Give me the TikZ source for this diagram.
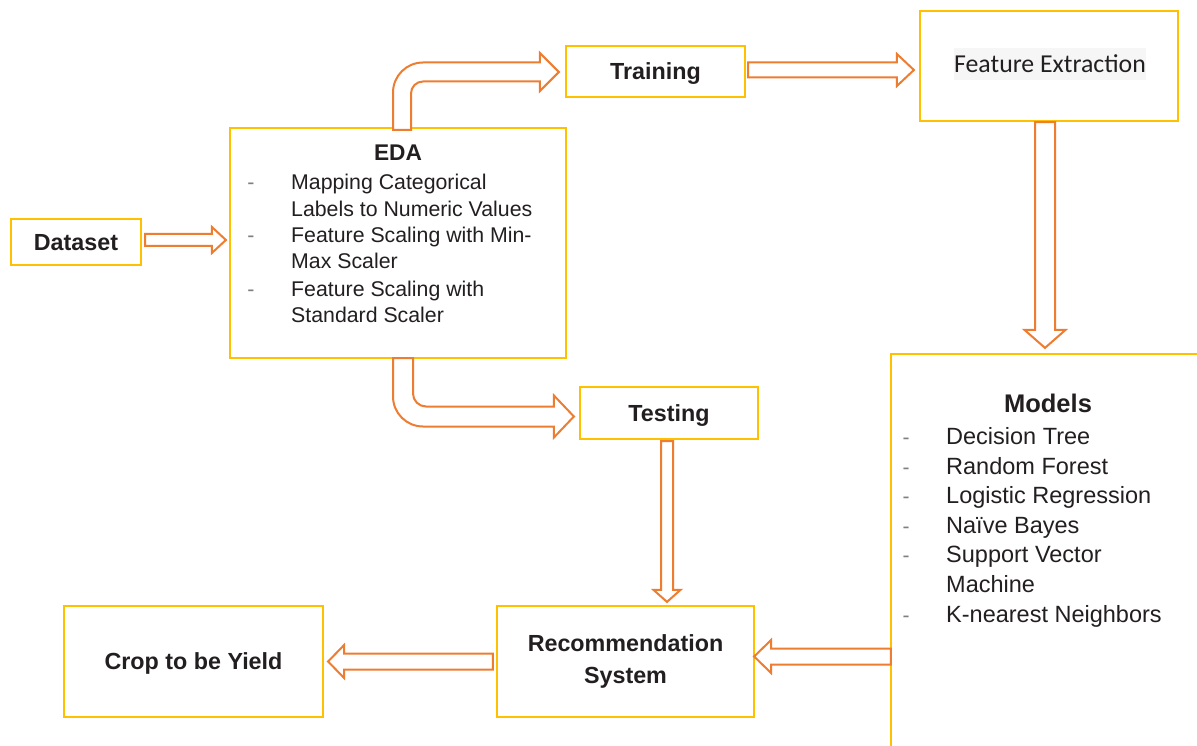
\documentclass[tikz,border=0pt]{standalone}
\usepackage{fontspec}
\setmainfont{Liberation Sans}
\newfontfamily\calfont{Carlito}
\usetikzlibrary{calc}
\definecolor{boxyellow}{HTML}{FFC000}
\definecolor{arrorange}{HTML}{ED7D31}
\definecolor{txt}{HTML}{231F20}
\definecolor{dashgray}{HTML}{7F7F7F}
\definecolor{hl}{HTML}{F6F6F6}
\tikzset{
  yellowbox/.style={draw=boxyellow, line width=2.2pt, fill=white, inner sep=0pt, rectangle},
  lbl/.style={font=\fontsize{23.3}{28}\selectfont\bfseries, text=txt},
  oneline/.style={text height=16.7pt, text depth=0pt},
  barrow/.style={draw=arrorange, line width=2pt, fill=white, line join=miter},
  edaitem/.style={anchor=base west, inner sep=0pt, font=\fontsize{21.3}{26}\selectfont, text=txt},
  edadash/.style={anchor=base, inner sep=0pt, font=\fontsize{21.3}{26}\selectfont, text=dashgray},
  moditem/.style={anchor=base west, inner sep=0pt, font=\fontsize{23.5}{28}\selectfont, text=txt},
  moddash/.style={anchor=base, inner sep=0pt, font=\fontsize{21}{26}\selectfont, text=dashgray},
}
\newcommand\blockright[5]{\draw[barrow] let \p1=#1, \p2=#2 in
  (\x1,\y2+#3) -- (\x2-#5,\y2+#3) -- (\x2-#5,\y2+#4) -- (\x2,\y2) -- (\x2-#5,\y2-#4) -- (\x2-#5,\y2-#3) -- (\x1,\y2-#3) -- cycle;}
\newcommand\blockleft[5]{\draw[barrow] let \p1=#1, \p2=#2 in
  (\x1,\y2+#3) -- (\x2+#5,\y2+#3) -- (\x2+#5,\y2+#4) -- (\x2,\y2) -- (\x2+#5,\y2-#4) -- (\x2+#5,\y2-#3) -- (\x1,\y2-#3) -- cycle;}
\newcommand\blockdown[5]{\draw[barrow] let \p1=#1, \p2=#2 in
  (\x2-#3,\y1) -- (\x2-#3,\y2+#5) -- (\x2-#4,\y2+#5) -- (\x2,\y2) -- (\x2+#4,\y2+#5) -- (\x2+#3,\y2+#5) -- (\x2+#3,\y1) -- cycle;}
\begin{document}
\begin{tikzpicture}[x=1pt,y=-1pt]
\useasboundingbox (0,0) rectangle (1197,746);
\clip (0,0) rectangle (1197,746);
\fill[white] (0,0) rectangle (1197,746);

% boxes
\node[yellowbox, lbl, oneline, minimum width=130pt, minimum height=46pt] (dataset) at (76,242) {Dataset};
\node[yellowbox, minimum width=336pt, minimum height=230pt] (eda) at (398,243) {};
\node[yellowbox, lbl, oneline, minimum width=179pt, minimum height=51pt] (training) at (655.5,71.5) {Training};
\node[yellowbox, minimum width=258pt, minimum height=110pt] (feat) at (1049,66) {};
\node[fill=hl, inner sep=0pt, text height=25pt, text depth=7pt, anchor=base, font=\calfont\fontsize{25.8}{30}\selectfont, text=txt] (feattxt) at (1050,73) {Feature Extraction};
\node[yellowbox, minimum width=330pt, minimum height=420pt] (models) at (1056,564) {};
\node[yellowbox, lbl, oneline, minimum width=178pt, minimum height=52pt] (testing) at (669,413) {Testing};
\node[yellowbox, lbl, font=\fontsize{23.3}{32}\selectfont\bfseries, align=center, minimum width=257pt, minimum height=111pt] (reco) at (625.5,661.5) {Recommendation\\System};
\node[yellowbox, lbl, oneline, minimum width=259pt, minimum height=111pt] (crop) at (193.5,661.5) {Crop to be Yield};

% EDA text
\node[anchor=base, inner sep=0pt, font=\fontsize{22.7}{28}\selectfont\bfseries, text=txt] (edatitle) at (398,161) {EDA};
\node[edadash] (ed1) at (251,190) {-};
\node[edaitem] (ei1) at (291,190) {Mapping Categorical};
\node[edaitem] (ei1b) at (291,217) {Labels to Numeric Values};
\node[edadash] (ed2) at (251,243) {-};
\node[edaitem] (ei2) at (291,243) {Feature Scaling with Min-};
\node[edaitem] (ei2b) at (291,269) {Max Scaler};
\node[edadash] (ed3) at (251,296) {-};
\node[edaitem] (ei3) at (291,296) {Feature Scaling with};
\node[edaitem] (ei3b) at (291,322) {Standard Scaler};

% Models text
\node[anchor=base, inner sep=0pt, font=\fontsize{25.5}{30}\selectfont\bfseries, text=txt] (modtitle) at (1048,412) {Models};
\node[moddash] (md1) at (906,444) {-};
\node[moditem] (mi1) at (946,444) {Decision Tree};
\node[moddash] (md2) at (906,474) {-};
\node[moditem] (mi2) at (946,474) {Random Forest};
\node[moddash] (md3) at (906,503) {-};
\node[moditem] (mi3) at (946,503) {Logistic Regression};
\node[moddash] (md4) at (906,533) {-};
\node[moditem] (mi4) at (946,533) {Naïve Bayes};
\node[moddash] (md5) at (906,562) {-};
\node[moditem] (mi5) at (946,562) {Support Vector};
\node[moditem] (mi5b) at (946,592) {Machine};
\node[moddash] (md6) at (906,622) {-};
\node[moditem] (mi6) at (946,622) {K-nearest Neighbors};

% straight block arrows
\blockright{($(dataset.east)+(3,-2)$)}{($(eda.west)+(-3,-3)$)}{6pt}{13pt}{14pt}
\blockright{($(training.east)+(2,-1.5)$)}{($(feat.west)+(-5,4)$)}{7.5pt}{16pt}{17pt}
\blockdown{($(feat.south)+(-4,0)$)}{($(feat.south |- models.north)+(-4,-5)$)}{10pt}{20.5pt}{18pt}
\blockdown{($(testing.south)+(-2,1)$)}{($(testing.south |- reco.north)+(-2,-3)$)}{6pt}{13.5pt}{12pt}
\blockleft{($(models.west |- reco.east)+(1,-5)$)}{($(reco.east)+(-1,-5)$)}{8pt}{16.5pt}{17pt}
\blockleft{($(reco.west)+(-3,0)$)}{($(crop.east)+(4,0)$)}{8pt}{16.5pt}{16pt}

% EDA -> Training (bent up-right)
\draw[barrow] let \p1=($(eda.north)+(4,3)$), \p2=($(training.west)+(-6,0.5)$) in
  (\x1-9pt,\y1) -- (\x1-9pt,\y2+9.5pt-30pt) arc[start angle=180,end angle=90,radius=30pt]
  -- (\x2-19pt,\y2+9.5pt) -- (\x2-19pt,\y2+19pt) -- (\x2,\y2) -- (\x2-19pt,\y2-19pt) -- (\x2-19pt,\y2-9.5pt)
  -- (\x1+21pt,\y2-9.5pt) arc[start angle=90,end angle=180,radius=12pt]
  -- (\x1+9pt,\y1) -- cycle;

% EDA -> Testing (bent down-right)
\draw[barrow] let \p1=($(eda.south)+(5,-1)$), \p2=($(testing.west)+(-5,3.5)$) in
  (\x1-10pt,\y1) -- (\x1-10pt,\y2-10pt+30pt) arc[start angle=180,end angle=270,radius=30pt]
  -- (\x2-20pt,\y2-10pt) -- (\x2-20pt,\y2-21pt) -- (\x2,\y2) -- (\x2-20pt,\y2+21pt) -- (\x2-20pt,\y2+10pt)
  -- (\x1+23pt,\y2+10pt) arc[start angle=270,end angle=180,radius=13pt]
  -- (\x1+10pt,\y1) -- cycle;
\end{tikzpicture}
\end{document}
